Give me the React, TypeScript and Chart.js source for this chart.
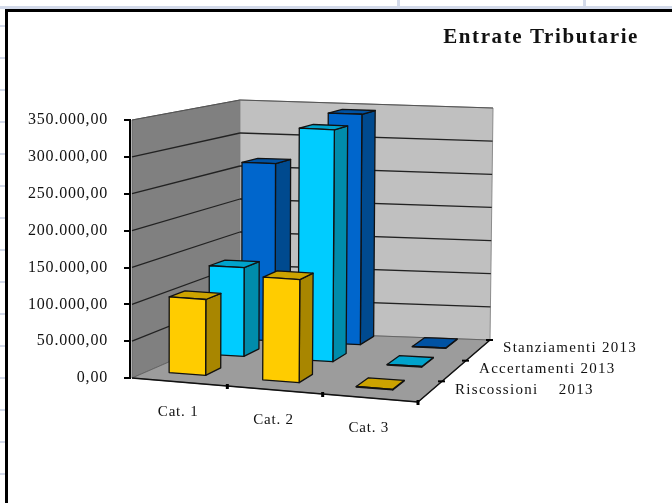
import React, { useEffect, useRef } from "react";
import { Chart, registerables } from "chart.js";

Chart.register(...registerables);

const categories = ["Cat. 1", "Cat. 2", "Cat. 3"];
const riscossioni = [104000, 140000, 800];
const accertamenti = [127000, 330000, 800];
const stanziamenti = [263000, 341000, 800];
const yTicks = [0, 50000, 100000, 150000, 200000, 250000, 300000, 350000];

const seriesLabels = ["Stanziamenti 2013", "Accertamenti 2013", "Riscossioni    2013"];
const seriesSlots = [5 / 6, 1 / 2, 1 / 6];
const seriesFaces = [
  { front: "#0066CC", side: "#004A8F", top: "#0052A3" },
  { front: "#00CCFF", side: "#008CAB", top: "#00A3CC" },
  { front: "#FFCC00", side: "#A88600", top: "#CCA300" },
];
const depthFront = [0.84, 0.53, 0.15];
const barDepth = 0.15;
const barWidth = 0.13;
const barShift = -0.027;

type P = [number, number];
const cube = {
  fl0: [132, 378] as P, fl1: [132, 120] as P,
  bl0: [240, 331] as P, bl1: [240, 100] as P,
  br0: [490, 340] as P, br1: [493, 108] as P,
  fr0: [418, 402] as P, fr1: [421, 136] as P,
};
const mix = (a: P, b: P, t: number): P => [a[0] + (b[0] - a[0]) * t, a[1] + (b[1] - a[1]) * t];
const project = (u: number, v: number, w: number): P => {
  const bottom = mix(mix(cube.fl0, cube.fr0, u), mix(cube.bl0, cube.br0, u), v);
  const top = mix(mix(cube.fl1, cube.fr1, u), mix(cube.bl1, cube.br1, u), v);
  return mix(bottom, top, w);
};
const poly = (ctx: CanvasRenderingContext2D, pts: P[], fill: string, stroke: string, lw = 1) => {
  ctx.beginPath();
  pts.forEach((p, i) => (i ? ctx.lineTo(p[0], p[1]) : ctx.moveTo(p[0], p[1])));
  ctx.closePath();
  ctx.fillStyle = fill;
  ctx.fill();
  ctx.strokeStyle = stroke;
  ctx.lineWidth = lw;
  ctx.stroke();
};
const line = (ctx: CanvasRenderingContext2D, a: P, b: P, c: string, lw = 1) => {
  ctx.beginPath();
  ctx.moveTo(a[0], a[1]);
  ctx.lineTo(b[0], b[1]);
  ctx.strokeStyle = c;
  ctx.lineWidth = lw;
  ctx.stroke();
};

const sheetPlugin = {
  id: "sheet",
  afterLayout(chart: any) {
    const block = chart.titleBlock;
    if (block && !block.__spaced) {
      const draw = block.draw;
      block.__spaced = true;
      block.draw = function (this: any, ...args: any[]) {
        chart.ctx.save();
        chart.ctx.letterSpacing = "1.6px";
        draw.apply(this, args);
        chart.ctx.restore();
      };
    }
  },
  beforeDraw(chart: any) {
    const ctx: CanvasRenderingContext2D = chart.ctx;
    ctx.save();
    ctx.fillStyle = "#fff";
    ctx.fillRect(0, 0, 672, 503);
    ctx.fillStyle = "#D3DAEA";
    ctx.fillRect(0, 6, 672, 3);
    [398, 584].forEach((x) => ctx.fillRect(x - 1, 0, 3, 8));
    for (let y = 25; y < 503; y += 32) ctx.fillRect(0, y, 5, 2);
    ctx.fillStyle = "#000";
    ctx.fillRect(5, 9, 667, 3);
    ctx.fillRect(5, 9, 3, 494);
    ctx.restore();
    (ctx as any).letterSpacing = "0.8px";
  },
};

const scene3dPlugin = {
  id: "scene3d",
  beforeDatasetsDraw(chart: any) {
    const ctx: CanvasRenderingContext2D = chart.ctx;
    const y = chart.scales.y;
    const wOf = (val: number) => (y.bottom - y.getPixelForValue(val)) / (y.bottom - y.top);
    ctx.save();
    poly(ctx, [cube.fl0, cube.fl1, cube.bl1, cube.bl0], "#808080", "#666");
    poly(ctx, [cube.bl0, cube.bl1, cube.br1, cube.br0], "#C0C0C0", "#8c8c8c");
    poly(ctx, [cube.fl0, cube.bl0, cube.br0, cube.fr0], "#9C9C9C", "#666");
    yTicks.slice(1, -1).forEach((t) => {
      const w = wOf(t);
      line(ctx, project(0, 0, w), project(0, 1, w), "#222", 1.3);
      line(ctx, project(0, 1, w), project(1, 1, w), "#222", 1.3);
    });
    line(ctx, cube.fl1, cube.bl1, "#555");
    line(ctx, cube.bl1, cube.br1, "#555");
    line(ctx, cube.fl0, cube.fr0, "#111", 1.5);
    line(ctx, cube.fr0, cube.br0, "#111", 1.5);
    ctx.restore();
  },
  afterDatasetsDraw(chart: any) {
    const ctx: CanvasRenderingContext2D = chart.ctx;
    const x = chart.scales.x;
    const y = chart.scales.y;
    const span = x.right - x.left;
    const wOf = (val: number) => (y.bottom - y.getPixelForValue(val)) / (y.bottom - y.top);
    ctx.save();
    ctx.lineJoin = "round";
    chart.data.datasets.forEach((ds: any, s: number) => {
      ds.data.forEach((val: number, i: number) => {
        const c = (x.getPixelForValue(i) - x.left) / span + barShift;
        const u0 = c - barWidth / 2;
        const u1 = c + barWidth / 2;
        const v0 = depthFront[s];
        const v1 = v0 + barDepth;
        const w = wOf(val);
        const f = seriesFaces[s];
        poly(ctx, [project(u1, v0, 0), project(u1, v1, 0), project(u1, v1, w), project(u1, v0, w)], f.side, "#111", 1.3);
        poly(ctx, [project(u0, v0, w), project(u1, v0, w), project(u1, v1, w), project(u0, v1, w)], f.top, "#111", 1.3);
        poly(ctx, [project(u0, v0, 0), project(u1, v0, 0), project(u1, v0, w), project(u0, v0, w)], f.front, "#111", 1.3);
      });
    });
    // floor tick marks
    categories.forEach((_, i) => {
      const u = (i + 1) / categories.length;
      const p = project(u, 0, 0);
      line(ctx, [p[0], p[1] - 2], [p[0], p[1] + 3], "#000", 3);
    });
    [1 / 3, 2 / 3, 1].forEach((v) => {
      const p = project(1, v, 0);
      line(ctx, [p[0] - 4, p[1]], [p[0] + 3, p[1]], "#000", 2);
    });
    // category labels
    ctx.fillStyle = "#111";
    ctx.font = "15px 'Liberation Serif'";
    (ctx as any).letterSpacing = "0.8px";
    ctx.textAlign = "center";
    ctx.textBaseline = "middle";
    categories.forEach((label, i) => {
      const c = (x.getPixelForValue(i) - x.left) / span;
      const p = project(c, 0, 0);
      ctx.fillText(label, p[0] - 1.5, p[1] + 30);
    });
    // series labels
    ctx.textAlign = "left";
    (ctx as any).letterSpacing = "1.3px";
    seriesLabels.forEach((label, s) => {
      const p = project(1, seriesSlots[s], 0);
      ctx.fillText(label, p[0] + 25, p[1] - 2);
    });
    ctx.restore();
  },
};

export default function App() {
  const ref = useRef<HTMLCanvasElement>(null);
  useEffect(() => {
    const chart = new Chart(ref.current!, {
      type: "bar",
      data: {
        labels: categories,
        datasets: [
          { label: seriesLabels[0], data: stanziamenti, backgroundColor: "transparent" },
          { label: seriesLabels[1], data: accertamenti, backgroundColor: "transparent" },
          { label: seriesLabels[2], data: riscossioni, backgroundColor: "transparent" },
        ],
      },
      options: {
        responsive: false,
        animation: false,
        layout: { padding: { top: 25, bottom: 125, right: 33, left: 0 } },
        plugins: {
          legend: { display: false },
          tooltip: { enabled: false },
          title: {
            display: true,
            text: "Entrate Tributarie",
            align: "end",
            color: "#111",
            font: { family: "'Liberation Serif'", size: 21, weight: "bold" },
            padding: { top: 0, bottom: 70 },
          },
        },
        scales: {
          x: { display: false },
          y: {
            min: 0,
            max: 350000,
            afterFit: (s: any) => { s.width = 130; },
            ticks: {
              stepSize: 50000,
              color: "#111",
              padding: 16,
              font: { family: "'Liberation Serif'", size: 16 },
              callback: (v: any) =>
                Number(v).toLocaleString("de-DE", { minimumFractionDigits: 2, maximumFractionDigits: 2 }),
            },
            grid: { drawOnChartArea: false, color: "#000", tickLength: 6, lineWidth: 2 },
            border: { color: "#000", width: 2 },
          },
        },
      },
      plugins: [sheetPlugin, scene3dPlugin],
    } as any);
    return () => chart.destroy();
  }, []);
  return (
    <canvas
      ref={ref}
      width={672}
      height={503}
      style={{ position: "fixed", left: 0, top: 0, width: 672, height: 503, display: "block", filter: "blur(0.4px)" }}
    />
  );
}
